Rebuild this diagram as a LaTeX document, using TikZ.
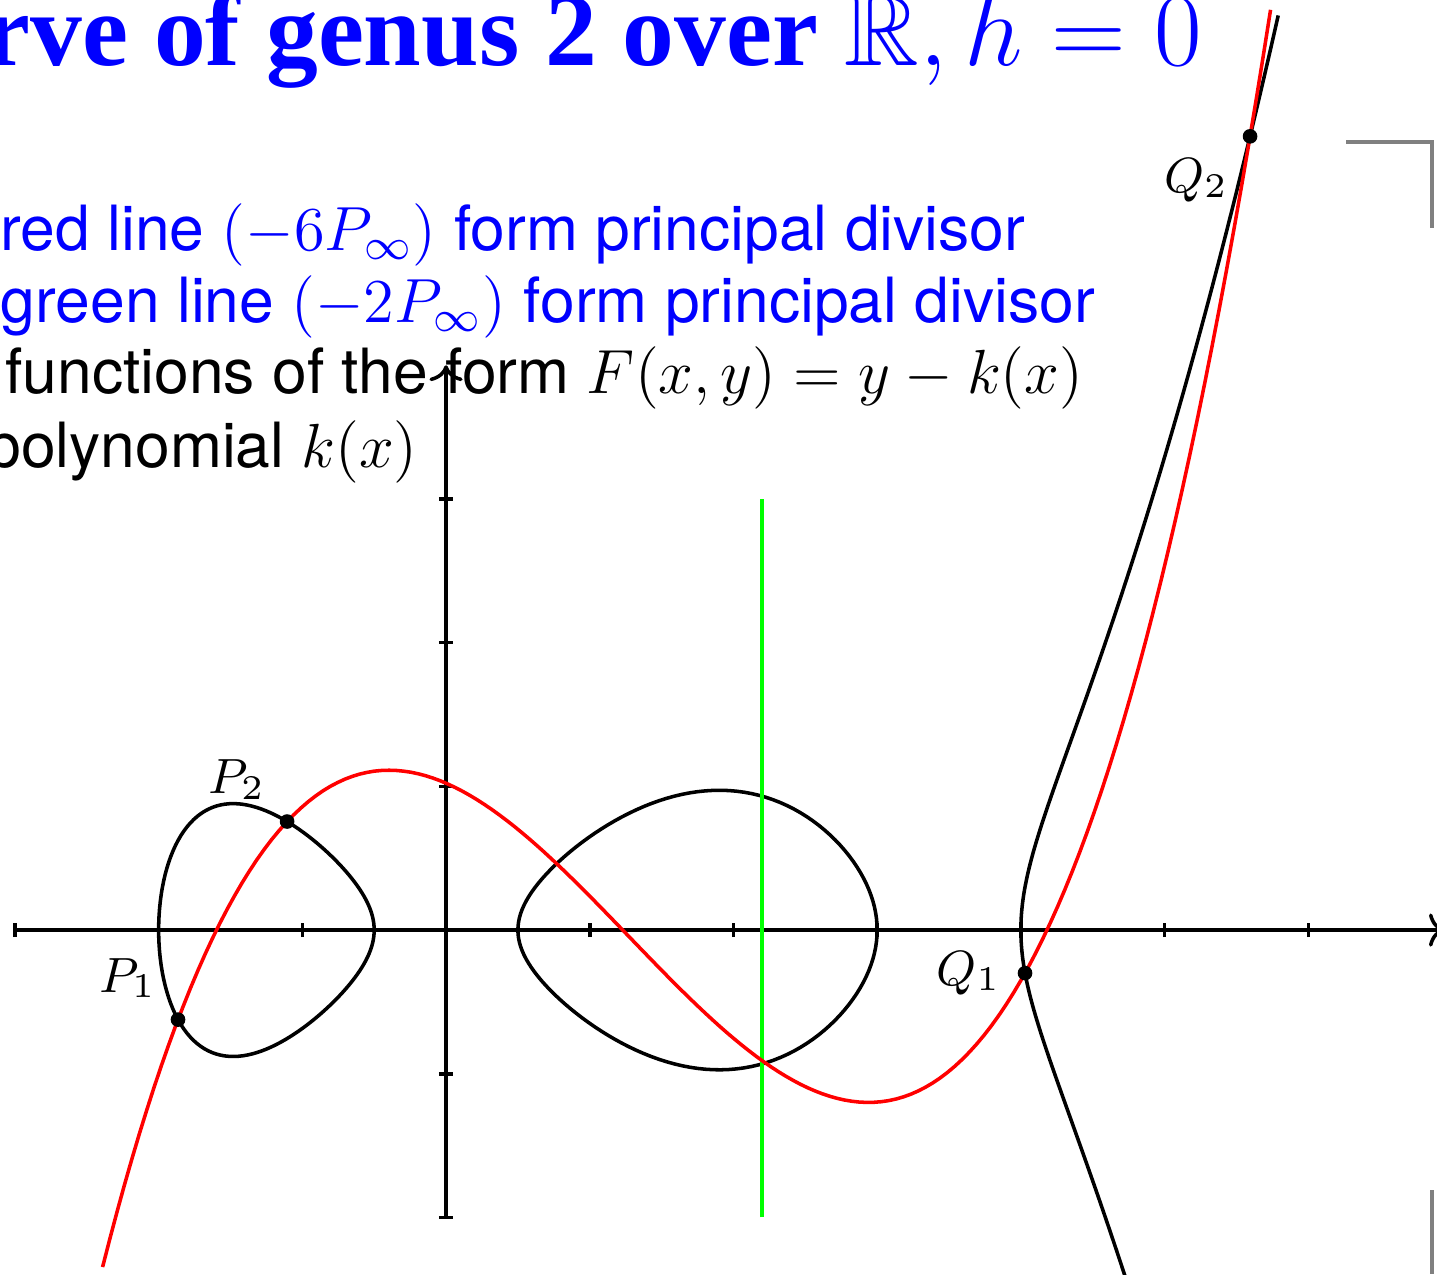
\RequirePackage{fix-cm}
\documentclass[tikz,border=0pt]{standalone}
\usepackage{amssymb}
\usepackage[no-math]{fontspec}
\setsansfont{TeX Gyre Heros}
\newfontfamily\titlefont{Liberation Serif}
\usepackage{xcolor}
\usepackage{tikz}
\usetikzlibrary{arrows.meta,positioning}

\begin{document}
\begin{tikzpicture}[
  every node/.style={font=\sffamily\fontsize{12.35}{14.3}\selectfont},
  axis/.style={line width=0.7pt},
  curve/.style={line width=0.7pt, black},
  redline/.style={line width=0.7pt, red},
  greenline/.style={line width=0.7pt, green},
  corner/.style={line width=0.7pt, gray},
  dot/.style={circle, fill, inner sep=0pt, minimum size=2.9pt},
  ptlabel/.style={inner sep=3pt, font=\fontsize{9.8}{12}\selectfont},
  bluetext/.style={text=blue, anchor=base east, inner sep=0pt},
  blacktext/.style={anchor=base east, inner sep=0pt},
  declare function={
    f(\x)=(\x+2)*(\x+0.5)*(\x-0.5)*(\x-3)*(\x-4)/32;
    k(\x)=0.018679*(\x+1.106)*(\x-4.029)*(\x-5.595)
         +0.028909*(\x+1.865)*(\x-4.029)*(\x-5.595)
         +0.0063246*(\x+1.865)*(\x+1.106)*(\x-5.595)
         +0.070555*(\x+1.865)*(\x+1.106)*(\x-4.029);
  }
]
\useasboundingbox (-3.104,-2.394) rectangle (6.896,6.472);
\clip (-3.104,-2.394) rectangle (6.896,6.472);

\node[bluetext, font=\titlefont\bfseries\fontsize{20.5}{24}\selectfont] (title) at (5.27,6.019) {rve of genus 2 over $\mathbb{R}, h=0$};
\node[bluetext] (redtxt) at (4.038,4.732) {red line $(-6P_\infty)$ form principal divisor};
\node[bluetext] (greentxt) at (4.523,4.231) {green line $(-2P_\infty)$ form principal divisor};
\node[blacktext] (formtxt) at (4.44,3.737) {functions of the form $F(x,y)=y-k(x)$};
\node[blacktext] (polytxt) at (-0.19,3.222) {polynomial $k(x)$};

\draw[axis, ->] (-3,0) -- (6.95,0);
\draw[axis, ->] (0,-2) -- (0,3.93);
\foreach \i in {-3,...,6} \draw[axis] (\i,-0.05) -- (\i,0.05);
\foreach \j in {-2,...,3} \draw[axis] (-0.05,\j) -- (0.05,\j);

\draw[curve] plot[domain=0:360, samples=145, variable=\t]
  ({-1.25-0.75*cos(\t)}, {sign(sin(\t))*sqrt(abs(f(-1.25-0.75*cos(\t))))});
\draw[curve] plot[domain=0:360, samples=145, variable=\t]
  ({1.75-1.25*cos(\t)}, {sign(sin(\t))*sqrt(abs(f(1.75-1.25*cos(\t))))});
\draw[curve] plot[domain=-0.87:1.34, samples=121, variable=\t]
  ({4+\t*\t}, {sign(\t)*sqrt(abs(f(4+\t*\t)))});

\draw[greenline] (2.2,-2) -- (2.2,3);
\draw[redline] plot[domain=-2.39:5.74, samples=160] (\x, {k(\x)});

\draw[corner] (6.263,5.484) -- (6.862,5.484) -- (6.862,4.885);
\draw[corner] (6.862,-1.809) -- (6.862,-2.394);

\node[dot, label={[ptlabel]135:$P_1$}] (P1) at (-1.865,{-sqrt(f(-1.865))}) {};
\node[dot, label={[ptlabel]135:$P_2$}] (P2) at (-1.106,{sqrt(f(-1.106))}) {};
\node[dot, label={[ptlabel]180:$Q_1$}] (Q1) at (4.029,{-sqrt(f(4.029))}) {};
\node[dot, label={[ptlabel]225:$Q_2$}] (Q2) at (5.595,{sqrt(f(5.595))}) {};
\end{tikzpicture}
\end{document}
